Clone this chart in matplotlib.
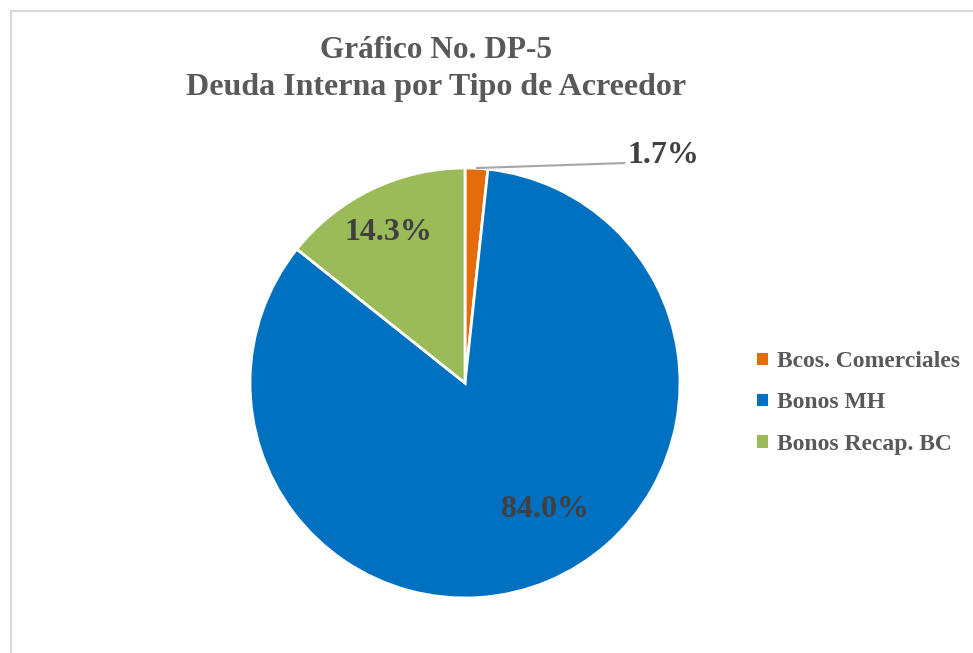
import matplotlib.pyplot as plt
from matplotlib.patches import Patch, Rectangle

# # Data

categorias = ['Bcos. Comerciales', 'Bonos MH', 'Bonos Recap. BC']
porcentajes = [1.7, 84.0, 14.3]
colores = ['#E46C0A', '#0070C0', '#9BBB59']
etiquetas = ['1.7%', '84.0%', '14.3%']

gris_titulo = '#595959'
gris_valor = '#404040'
serif = ['Liberation Serif', 'DejaVu Serif']

# # Figure

fig = plt.figure(figsize=(9.73, 6.53), dpi=100)

# light frame of the chart area (only top and left visible in reference)
fig.patches.append(Rectangle((11 / 973, -0.05), 1.2, 1 - 11 / 653 + 0.05,
                             transform=fig.transFigure, fill=False,
                             edgecolor='#d9d9d9', linewidth=1.5))

fig.text(0.4485, 1 - 50 / 653, 'Gráfico No. DP-5', ha='center', va='center',
         fontsize=22.5, fontweight='bold', color=gris_titulo, family=serif)
fig.text(0.4485, 1 - 88 / 653, 'Deuda Interna por Tipo de Acreedor', ha='center', va='center',
         fontsize=23, fontweight='bold', color=gris_titulo, family=serif)

# pie axes: center (465, 383), radius 215 px
ax = fig.add_axes([(465 - 215) / 973, (653 - 598) / 653, 430 / 973, 430 / 653])
wedges, _ = ax.pie(porcentajes, colors=colores, startangle=90, counterclock=False,
                   wedgeprops={'edgecolor': 'white', 'linewidth': 2})
ax.set_xlim(-1, 1)
ax.set_ylim(-1, 1)
ax.axis('off')

# # Labels

# 1.7% with leader line
ax.plot([0.056, 0.74], [1.0, 1.023], color='#a6a6a6', linewidth=1.5, clip_on=False)
ax.text(0.925, 1.06, etiquetas[0], ha='center', va='center', fontsize=23,
        fontweight='bold', color=gris_valor, family=serif)
ax.text(0.37, -0.59, etiquetas[1], ha='center', va='center', fontsize=23,
        fontweight='bold', color=gris_valor, family=serif)
ax.text(-0.358, 0.70, etiquetas[2], ha='center', va='center', fontsize=23,
        fontweight='bold', color=gris_valor, family=serif)

# # Legend

handles = [Patch(facecolor=c, edgecolor='none') for c in colores]
leg = fig.legend(handles, categorias, loc='center left', bbox_to_anchor=(736 / 973, 1 - 403 / 653),
                 frameon=False, handlelength=0.45, handleheight=0.45, handletextpad=0.4,
                 labelspacing=0.85, prop={'family': serif, 'weight': 'bold', 'size': 17})
for t in leg.get_texts():
    t.set_color(gris_titulo)

plt.savefig('out.png', dpi=100)
